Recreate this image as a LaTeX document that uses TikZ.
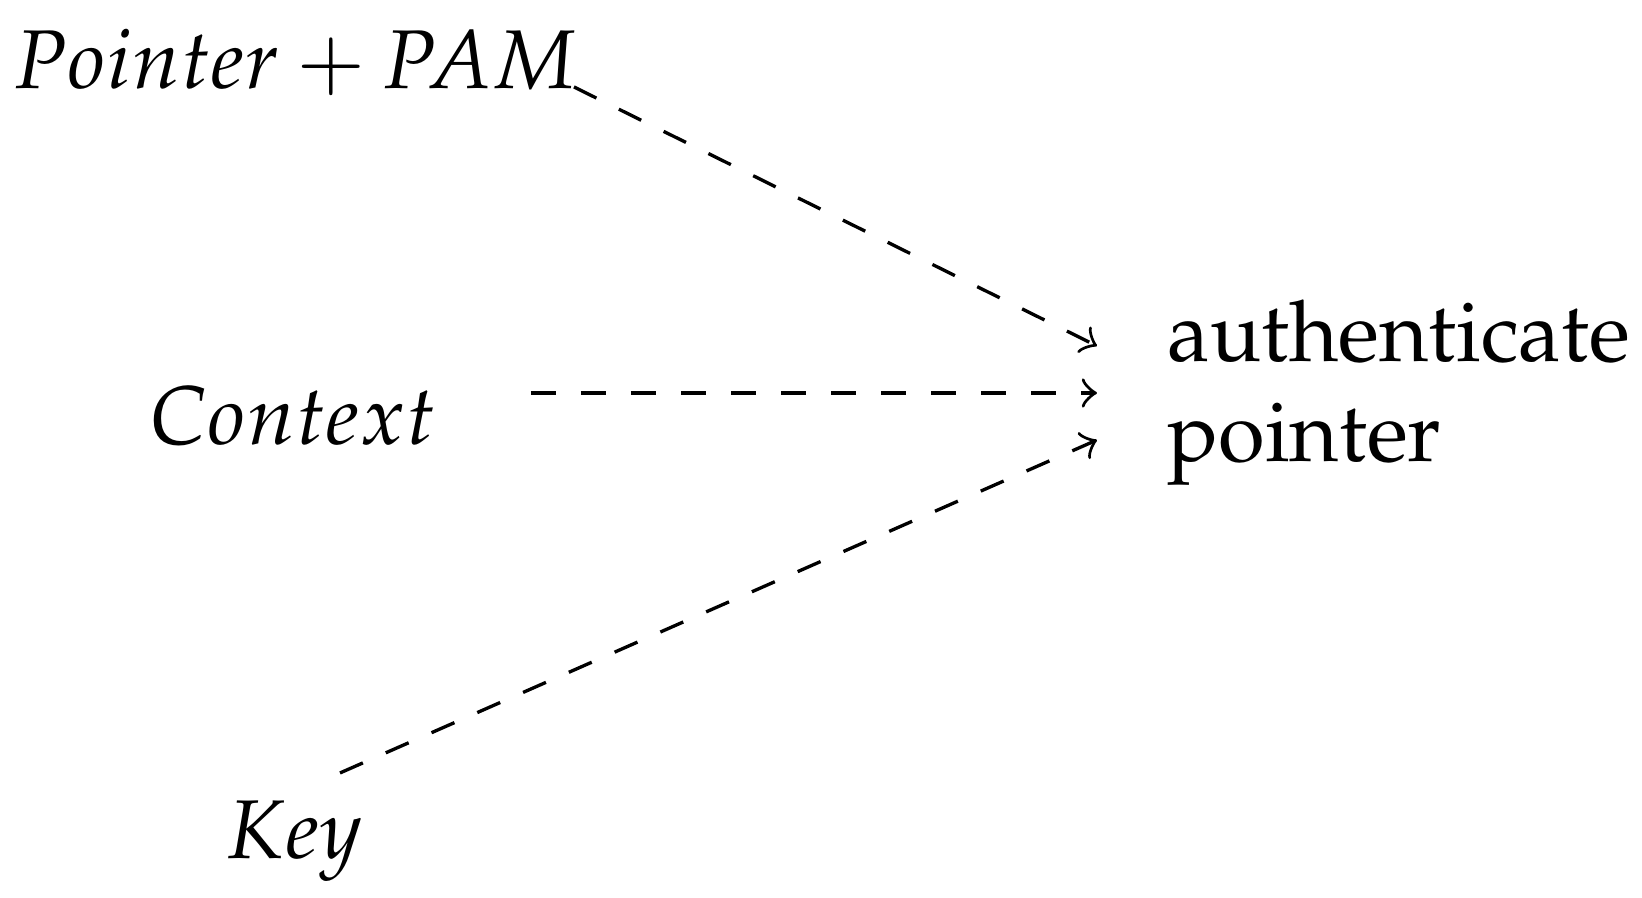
\documentclass[tikz,border=0pt]{standalone}
\usepackage[T1]{fontenc}
\usepackage{mathpazo}
\begin{document}
\begin{tikzpicture}[x=0.12pt,y=-0.12pt,
  lbl/.style={inner sep=0pt, anchor=base},
  conn/.style={dashed, -to, line width=0.4pt}]
\useasboundingbox (0,0) rectangle (1642,898);
\node[lbl] (pam) at (295,89) {$Pointer + PAM$};
\node[lbl] (ctx) at (293,445) {$Context$};
\node[lbl] (key) at (295,859) {$Key$};
\node[inner sep=0pt, anchor=west, align=left, font=\fontsize{10.2}{12}\selectfont] (auth) at (1166,393) {authenticate\\pointer};
\coordinate (s1) at (574,87);
\coordinate (s2) at (531,393);
\coordinate (s3) at (340,773);
\coordinate (t1) at (1097,346);
\coordinate (t2) at (1097,393);
\coordinate (t3) at (1097,440);
\draw[conn] (s1) -- (t1);
\draw[conn] (s2) -- (t2);
\draw[conn] (s3) -- (t3);
\end{tikzpicture}
\end{document}
